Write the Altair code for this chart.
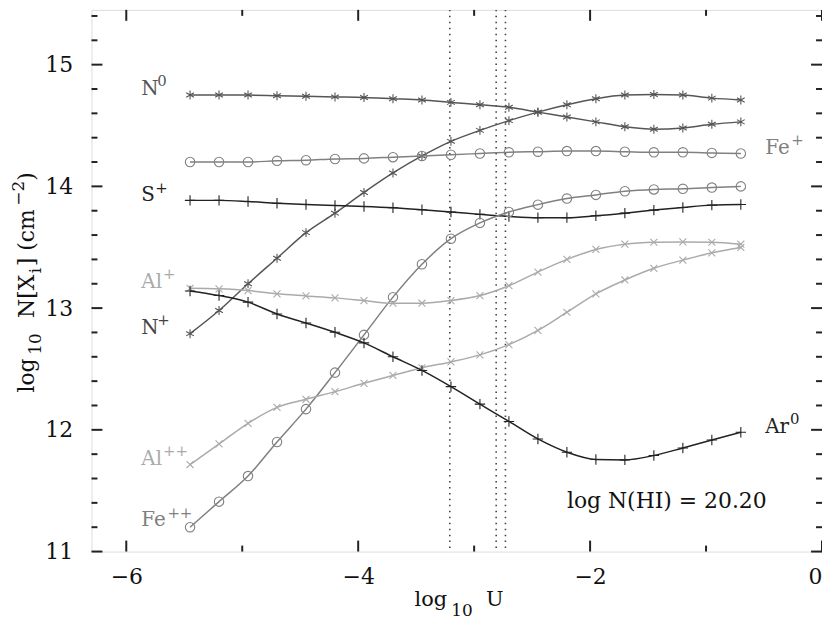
import altair as alt
import pandas as pd

# ---------------- data ----------------
logU = [-5.45, -5.2, -4.95, -4.7, -4.45, -4.2, -3.95, -3.7, -3.45, -3.2,
        -2.95, -2.7, -2.45, -2.2, -1.95, -1.7, -1.45, -1.2, -0.95, -0.7]

N0 = [14.75, 14.75, 14.75, 14.745, 14.74, 14.735, 14.73, 14.72, 14.71, 14.69,
      14.67, 14.65, 14.61, 14.57, 14.53, 14.49, 14.47, 14.48, 14.51, 14.53]
Nplus = [12.79, 12.98, 13.20, 13.41, 13.62, 13.78, 13.95, 14.11, 14.25, 14.37,
         14.46, 14.54, 14.61, 14.67, 14.72, 14.75, 14.755, 14.75, 14.725, 14.71]
Feplus = [14.20, 14.20, 14.20, 14.21, 14.215, 14.225, 14.23, 14.24, 14.25, 14.26,
          14.27, 14.28, 14.285, 14.29, 14.29, 14.285, 14.28, 14.28, 14.275, 14.27]
Splus = [13.885, 13.885, 13.876, 13.862, 13.851, 13.843, 13.835, 13.824, 13.808, 13.79,
         13.77, 13.753, 13.743, 13.743, 13.759, 13.78, 13.805, 13.827, 13.846, 13.851]
Fepp = [11.20, 11.41, 11.62, 11.90, 12.17, 12.47, 12.78, 13.09, 13.36, 13.57,
        13.70, 13.79, 13.85, 13.90, 13.93, 13.96, 13.975, 13.98, 13.99, 14.0]
Alplus = [13.163, 13.158, 13.144, 13.117, 13.10, 13.084, 13.062, 13.04, 13.04, 13.062,
          13.103, 13.184, 13.296, 13.40, 13.482, 13.525, 13.541, 13.544, 13.541, 13.525]
Alpp = [11.715, 11.884, 12.053, 12.184, 12.251, 12.314, 12.382, 12.447, 12.51, 12.558,
        12.616, 12.70, 12.817, 12.966, 13.117, 13.231, 13.327, 13.394, 13.454, 13.498]
Ar0 = [13.141, 13.103, 13.049, 12.951, 12.878, 12.801, 12.714, 12.60, 12.488, 12.355,
       12.211, 12.069, 11.925, 11.816, 11.756, 11.753, 11.789, 11.851, 11.917, 11.98]

series_names = ["N0", "N+", "Fe+", "S+", "Fe++", "Al+", "Al++", "Ar0"]
series_values = [N0, Nplus, Feplus, Splus, Fepp, Alplus, Alpp, Ar0]

vlines = [-3.21, -2.81, -2.73]

x_major = [-6, -4, -2, 0]
x_minor = [-5, -3, -1]
y_major = [11, 12, 13, 14, 15]
y_minor = [11.2, 11.4, 11.6, 11.8, 12.2, 12.4, 12.6, 12.8, 13.2, 13.4, 13.6, 13.8,
           14.2, 14.4, 14.6, 14.8, 15.2, 15.4]

label_base = ["N", "S", "Al", "N", "Al", "Fe", "Fe", "Ar"]
label_sup = ["0", "+", "+", "+", "++", "++", "+", "0"]
label_x = [-5.87, -5.87, -5.87, -5.87, -5.87, -5.87, -0.49, -0.49]
label_y = [14.80, 13.925, 13.215, 12.84, 11.76, 11.255, 14.317, 12.02]

note_text = "log N(HI) = 20.20"
note_x = -2.2
note_y = 11.413

# ---------------- styles ----------------
ASTER = "M0,-1L0,1M-0.866,-0.5L0.866,0.5M-0.866,0.5L0.866,-0.5"
PLUS = "M-1,0L1,0M0,-1L0,1"
XSYM = "M-1,-1L1,1M-1,1L1,-1"
style = {
    "N0": ("#555555", ASTER, 81),
    "N+": ("#555555", ASTER, 81),
    "Fe+": ("#808080", "circle", 90),
    "S+": ("#222222", PLUS, 110),
    "Fe++": ("#808080", "circle", 90),
    "Al+": ("#aaaaaa", XSYM, 49),
    "Al++": ("#aaaaaa", XSYM, 49),
    "Ar0": ("#222222", PLUS, 110),
}
label_colors = ["#555555", "#222222", "#aaaaaa", "#444444", "#aaaaaa", "#808080", "#808080", "#222222"]
base_width = {"N": 15.0, "S": 12.9, "Al": 20.8, "Fe": 25.2, "Ar": 24.0}

FONT = "DejaVu Serif"
TXT = "#111111"
W, H = 735, 545
xs = alt.Scale(domain=[-6.3, 0.0], nice=False, zero=False)
ys = alt.Scale(domain=[11.0, 15.45], nice=False, zero=False)

layers = []

# dotted vertical lines
vdf = pd.DataFrame({"x": vlines})
layers.append(
    alt.Chart(vdf).mark_rule(color="#444444", strokeWidth=1.6, strokeDash=[1.5, 4.5]).encode(
        x=alt.X("x:Q", scale=xs,
                axis=alt.Axis(values=x_major, format="d", title=None, tickSize=0, domain=False,
                              grid=False, labelFont=FONT, labelFontSize=22, labelColor=TXT,
                              labelPadding=15)),
        y=alt.value(0), y2=alt.value(H))
)

for name, vals in zip(series_names, series_values):
    col, shp, sz = style[name]
    df = pd.DataFrame({"x": logU, "y": vals})
    base = alt.Chart(df)
    layers.append(base.mark_line(color=col, strokeWidth=1.5, interpolate="monotone").encode(
        x=alt.X("x:Q", scale=xs),
        y=alt.Y("y:Q", scale=ys,
                axis=alt.Axis(values=y_major, format="d", title=None, tickSize=0,
                              domain=False, grid=False, labelFont=FONT, labelFontSize=22,
                              labelColor=TXT, labelPadding=19))))
    layers.append(base.mark_point(shape=shp, size=sz, filled=False, stroke=col, strokeWidth=1.1,
                                  opacity=1).encode(
        x=alt.X("x:Q", scale=xs), y=alt.Y("y:Q", scale=ys)))

# inward ticks
tick_col = "#222222"
def xticks(vals, length):
    d = pd.DataFrame({"x": vals})
    c = alt.Chart(d)
    return [
        c.mark_rule(color=tick_col, strokeWidth=2).encode(x=alt.X("x:Q", scale=xs), y=alt.value(H), y2=alt.value(H - length)),
        c.mark_rule(color=tick_col, strokeWidth=2).encode(x=alt.X("x:Q", scale=xs), y=alt.value(0), y2=alt.value(length)),
    ]
def yticks(vals, length):
    d = pd.DataFrame({"y": vals})
    c = alt.Chart(d)
    return [
        c.mark_rule(color=tick_col, strokeWidth=2).encode(y=alt.Y("y:Q", scale=ys), x=alt.value(0), x2=alt.value(length)),
        c.mark_rule(color=tick_col, strokeWidth=2).encode(y=alt.Y("y:Q", scale=ys), x=alt.value(W), x2=alt.value(W - length)),
    ]
layers += xticks(x_major, 11) + xticks(x_minor, 6) + yticks(y_major, 11) + yticks(y_minor, 6)

# species labels (base + superscript)
for b, s, lx, ly, lc in zip(label_base, label_sup, label_x, label_y, label_colors):
    d = pd.DataFrame({"x": [lx], "y": [ly], "b": [b], "s": [s]})
    c = alt.Chart(d)
    layers.append(c.mark_text(align="left", baseline="middle", font=FONT, fontSize=20,
                              color=lc).encode(
        x=alt.X("x:Q", scale=xs), y=alt.Y("y:Q", scale=ys), text="b:N"))
    layers.append(c.mark_text(align="left", baseline="middle", font=FONT, fontSize=15,
                              color=lc, dx=base_width[b] + 1, dy=-8).encode(
        x=alt.X("x:Q", scale=xs), y=alt.Y("y:Q", scale=ys), text="s:N"))

nd = pd.DataFrame({"x": [note_x], "y": [note_y], "t": [note_text]})
layers.append(alt.Chart(nd).mark_text(align="left", baseline="middle", font=FONT, fontSize=22,
                                      color=TXT).encode(
    x=alt.X("x:Q", scale=xs), y=alt.Y("y:Q", scale=ys), text="t:N"))

# axis titles built from pieces (for sub/superscripts)
def piece(text, x, y, size, angle=0):
    d = pd.DataFrame({"t": [text]})
    return alt.Chart(d).mark_text(align="left", baseline="alphabetic", font=FONT, fontSize=size,
                                  color=TXT, angle=angle).encode(
        x=alt.value(x), y=alt.value(y), text="t:N")

# x title: log_10 U
layers += [piece("log", 325, 600, 21), piece("10", 362, 610, 17), piece("U", 397, 600, 21)]

# y title: log_10 N[X_i] (cm^-2), rotated
bx = 26 - 84  # baseline x relative to plot origin
layers += [
    piece("log", bx, 385, 22, 270),
    piece("10", bx + 7, 347, 17, 270),
    piece("N[X", bx, 310, 22, 270),
    piece("i", bx + 7, 265, 17, 270),
    piece("] (cm", bx, 258, 22, 270),
    piece("−2", bx - 10, 197, 17, 270),
    piece(")", bx, 172, 22, 270),
]

chart = alt.layer(*layers).properties(
    width=W, height=H,
    autosize=alt.AutoSizeParams(type="none"),
    padding={"left": 84, "top": 0, "right": 0, "bottom": 70},
).configure_view(stroke="#222222", strokeWidth=2).configure(background="white")

chart.save("out.html", embed_options={"renderer": "svg", "actions": False})
